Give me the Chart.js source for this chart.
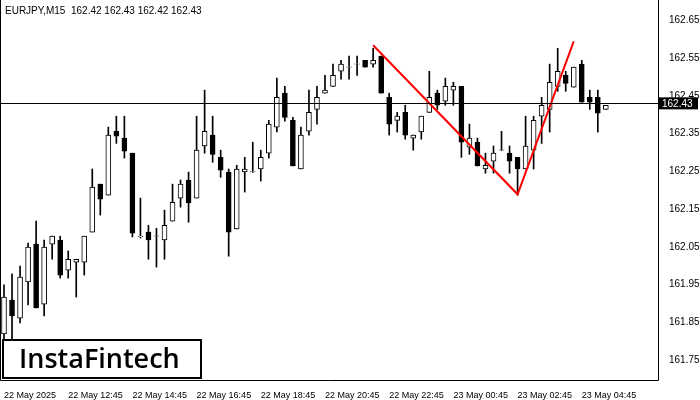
<!DOCTYPE html>
<html>
<head>
<meta charset="utf-8">
<script src="https://cdn.jsdelivr.net/npm/chart.js@4/dist/chart.umd.min.js"></script>
<style>
  body { margin: 0; background: #fff; }
  #wrap { width: 700px; height: 400px; }
</style>
</head>
<body>
<div id="wrap"><canvas id="chart"></canvas></div>
<script>
// candles, 15 minute bars
const opens = [161.819,161.909,161.861,161.957,162.057,161.898,162.057,162.068,161.988,162.009,
  162.009,162.089,162.216,162.187,162.356,162.338,162.298,162.077,162.089,162.078,
  162.068,162.118,162.179,162.227,162.179,162.317,162.346,162.287,162.248,162.097,
  162.248,162.248,162.256,162.298,162.367,162.457,162.385,162.256,162.356,162.414,
  162.457,162.475,162.515,162.526,162.534,162.544,162.534,162.555,162.446,162.385,
  162.406,162.338,162.354,162.406,162.457,162.436,162.465,162.475,162.314,162.327,
  162.256,162.277,162.306,162.298,162.287,162.256,162.306,162.396,162.414,162.475,
  162.504,162.473,162.534,162.446,162.446,162.414];
const highs = [161.949,161.978,161.999,162.060,162.118,162.068,162.078,162.078,162.039,162.017,
  162.078,162.256,162.216,162.367,162.396,162.396,162.298,162.179,162.107,162.099,
  162.147,162.216,162.227,162.248,162.396,162.465,162.396,162.306,162.256,162.266,
  162.287,162.327,162.306,162.385,162.497,162.475,162.393,162.367,162.465,162.475,
  162.504,162.534,162.544,162.555,162.555,162.544,162.576,162.555,162.457,162.406,
  162.425,162.346,162.396,162.515,162.465,162.497,162.486,162.475,162.375,162.338,
  162.298,162.317,162.356,162.317,162.287,162.396,162.396,162.446,162.534,162.576,
  162.515,162.526,162.544,162.465,162.465,162.425];
const lows = [161.803,161.803,161.848,161.896,161.888,161.867,162.017,161.967,161.967,161.917,
  161.975,162.089,162.134,162.187,162.324,162.285,162.076,162.073,162.017,161.996,
  162.017,162.118,162.155,162.115,162.179,162.298,162.274,162.234,162.025,162.097,
  162.195,162.247,162.224,162.285,162.354,162.383,162.264,162.256,162.346,162.375,
  162.457,162.475,162.494,162.494,162.504,162.526,162.526,162.457,162.346,162.354,
  162.335,162.306,162.335,162.406,162.414,162.425,162.425,162.287,162.295,162.264,
  162.245,162.245,162.305,162.245,162.187,162.256,162.256,162.324,162.354,162.462,
  162.462,162.473,162.433,162.414,162.354,162.414];
const closes = [161.917,161.867,161.970,162.049,161.888,162.049,162.078,161.975,162.017,162.017,
  162.078,162.208,162.176,162.346,162.343,162.303,162.086,162.078,162.068,162.078,
  162.107,162.168,162.216,162.166,162.306,162.356,162.295,162.253,162.089,162.256,
  162.256,162.248,162.287,162.375,162.446,162.393,162.264,162.346,162.406,162.446,
  162.465,162.504,162.534,162.526,162.534,162.526,162.544,162.457,162.375,162.396,
  162.346,162.346,162.396,162.446,162.425,162.475,162.475,162.327,162.338,162.264,
  162.266,162.298,162.306,162.277,162.256,162.317,162.385,162.425,162.486,162.515,
  162.483,162.526,162.433,162.433,162.404,162.425];

// red pattern line: candle index -> price
const patternIdx = [46, 64, 71];
const patternPrice = [162.584, 162.189, 162.594];

const xTickLabels = ["22 May 2025","22 May 12:45","22 May 14:45","22 May 16:45","22 May 18:45",
  "22 May 20:45","22 May 22:45","23 May 00:45","23 May 02:45","23 May 04:45"];
const yTicks = [161.75,161.85,161.95,162.05,162.15,162.25,162.35,162.45,162.55,162.65];
const lastPrice = 162.43;
const title = "EURJPY,M15  162.42 162.43 162.42 162.43";
const slotCount = 82; // empty space right of the last candle

const labels = Array.from({ length: slotCount }, (_, i) => i);
const wicks = opens.map((_, i) => [lows[i], highs[i]]);
const bodies = opens.map((o, i) => {
  let lo = Math.min(o, closes[i]), hi = Math.max(o, closes[i]);
  if (hi - lo < 0.001) hi = lo + 0.001; // keep dojis visible
  return [lo, hi];
});
const bodyFill = opens.map((o, i) => (closes[i] < o ? "#000" : "#fff"));
const pattern = labels.map((i) => {
  const k = patternIdx.indexOf(i);
  return k >= 0 ? patternPrice[k] : null;
});

const font = "'Liberation Sans', Arial, sans-serif";

// frame, title, last price line + tag, logo
const decor = {
  id: "decor",
  afterDatasetsDraw(chart) {
    const { ctx, chartArea: a, scales } = chart;
    const y = scales.y.getPixelForValue(lastPrice);
    ctx.save();
    ctx.strokeStyle = "#000";
    ctx.lineWidth = 1;
    ctx.beginPath();
    ctx.moveTo(a.left, Math.round(y) + 0.5);
    ctx.lineTo(a.right, Math.round(y) + 0.5);
    ctx.stroke();
    ctx.beginPath();
    ctx.moveTo(0.5, 0);
    ctx.lineTo(0.5, a.bottom + 0.5);
    ctx.lineTo(a.right + 0.5, a.bottom + 0.5);
    ctx.lineTo(a.right + 0.5, 0);
    ctx.stroke();
    ctx.fillStyle = "#000";
    ctx.fillRect(a.right, y - 6, 40, 12);
    ctx.fillStyle = "#fff";
    ctx.font = "10px " + font;
    ctx.textBaseline = "middle";
    ctx.fillText(lastPrice.toFixed(2), a.right + 4, y + 1);
    ctx.fillStyle = "#000";
    ctx.fillText(title, 5, 11);
    // logo
    ctx.fillStyle = "#fff";
    ctx.fillRect(3, 340, 198, 38);
    ctx.lineWidth = 2;
    ctx.strokeRect(3, 340, 198, 38);
    ctx.fillStyle = "#000";
    ctx.font = "600 27px 'Open Sans'";
    ctx.fillText("InstaFintech", 19, 360);
    ctx.restore();
  },
};

new Chart(document.getElementById("chart"), {
  type: "bar",
  data: {
    labels: labels,
    datasets: [
      {
        type: "line",
        data: pattern,
        borderColor: "#f00",
        borderWidth: 2,
        pointRadius: 0,
        spanGaps: true,
        order: 0,
      },
      {
        data: bodies,
        backgroundColor: bodyFill,
        borderColor: "#000",
        borderWidth: 1,
        borderSkipped: false,
        barThickness: 5,
        grouped: false,
        order: 1,
      },
      {
        data: wicks,
        backgroundColor: "#000",
        barThickness: 1,
        grouped: false,
        order: 2,
      },
    ],
  },
  options: {
    responsive: true,
    maintainAspectRatio: false,
    animation: false,
    layout: { padding: 0 },
    plugins: { legend: { display: false }, tooltip: { enabled: false } },
    scales: {
      x: {
        offset: true,
        grid: { display: false },
        border: { display: false },
        afterFit: (s) => { s.height = 20; },
        ticks: {
          autoSkip: false,
          maxRotation: 0,
          align: "start",
          color: "#000",
          font: { size: 9, family: font },
          padding: 2,
          callback: (v, i) => (i % 8 === 0 && i / 8 < xTickLabels.length ? xTickLabels[i / 8] : ""),
        },
      },
      y: {
        position: "right",
        min: 161.697,
        max: 162.68,
        grid: { display: false },
        border: { display: false },
        afterFit: (s) => { s.width = 42; },
        afterBuildTicks: (s) => { s.ticks = yTicks.map((v) => ({ value: v })); },
        ticks: {
          color: "#000",
          font: { size: 10, family: font },
          padding: 3,
          callback: (v) => v.toFixed(2),
        },
      },
    },
  },
  plugins: [decor],
});
</script>
</body>
</html>
